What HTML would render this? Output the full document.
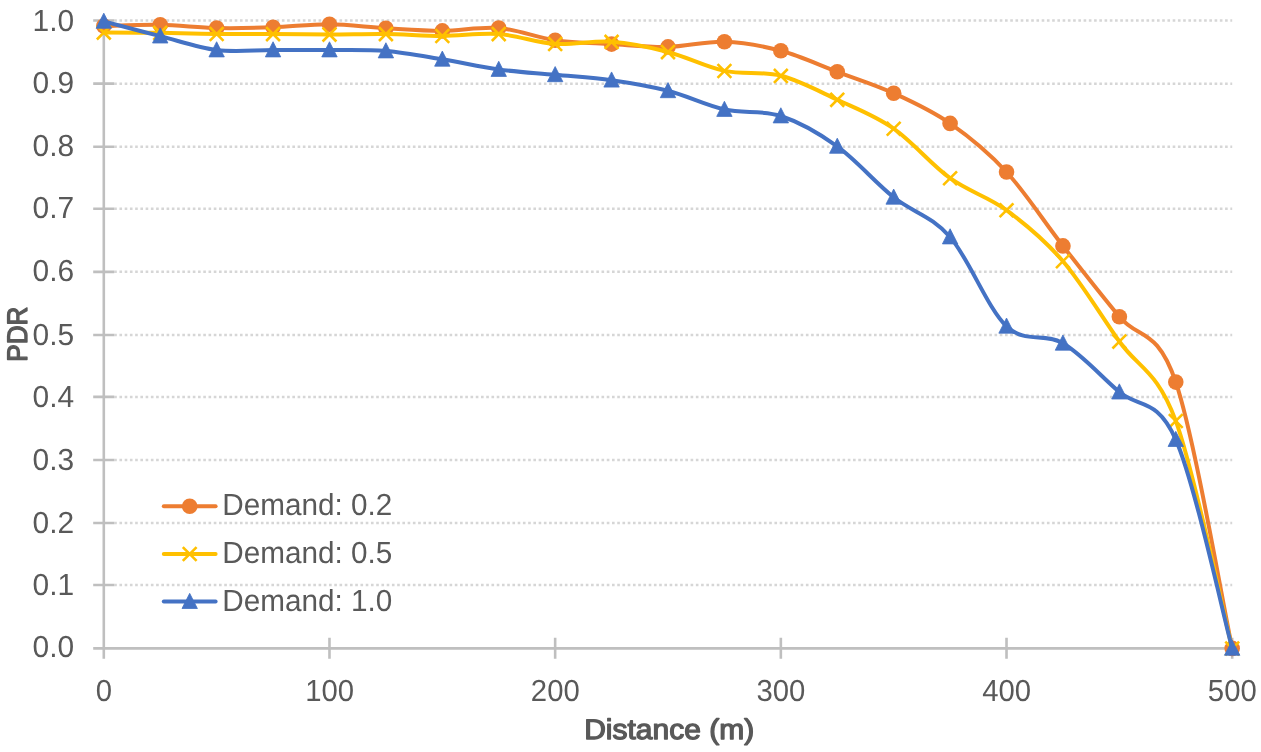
<!DOCTYPE html>
<html><head><meta charset="utf-8"><title>PDR vs Distance</title>
<style>
html,body{margin:0;padding:0;background:#fff;}
body{width:1261px;height:752px;overflow:hidden;}
svg{display:block;}
svg text{font-family:"Liberation Sans",sans-serif;font-size:30.5px;text-rendering:geometricPrecision;fill:#595959;}
svg text.b{font-size:28.3px;stroke:#595959;stroke-width:1.3px;stroke-linejoin:round;}
</style></head><body>
<svg width="1261" height="752" viewBox="0 0 1261 752">
<rect width="1261" height="752" fill="#fff"/>
<path d="M114.20 585.04H1232.20M114.20 523.06H1232.20M114.20 460.00H1232.20M114.20 396.91H1232.20M114.20 334.97H1232.20M114.20 271.84H1232.20M114.20 208.71H1232.20M114.20 146.77H1232.20M114.20 83.65H1232.20M114.20 20.43H1232.20" stroke="#D6D6D6" stroke-width="2.5" stroke-dasharray="2.62 2.62" fill="none"/>
<path d="M103.80 19.13V658.77M93.20 648.37H1233.50M93.20 585.04H114.20M93.20 523.06H114.20M93.20 460.00H114.20M93.20 396.91H114.20M93.20 334.97H114.20M93.20 271.84H114.20M93.20 208.71H114.20M93.20 146.77H114.20M93.20 83.65H114.20M93.20 20.43H114.20M329.48 637.77V658.77M555.16 637.77V658.77M780.84 637.77V658.77M1006.52 637.77V658.77M1232.20 637.77V658.77" stroke="#BFBFBF" stroke-width="2.6" fill="none"/>
<path d="M103.80 26.10 C113.20 25.88 141.41 24.48 160.22 24.80 C179.03 25.12 197.83 27.58 216.64 28.00 C235.45 28.42 254.25 27.92 273.06 27.30 C291.87 26.68 310.67 24.13 329.48 24.30 C348.29 24.47 367.09 27.20 385.90 28.30 C404.71 29.40 423.51 30.95 442.32 30.90 C461.13 30.85 479.93 26.45 498.74 28.00 C517.55 29.55 536.35 37.52 555.16 40.20 C573.97 42.88 592.77 42.98 611.58 44.10 C630.39 45.22 649.19 47.30 668.00 46.90 C686.81 46.50 705.61 41.05 724.42 41.70 C743.23 42.35 762.03 45.78 780.84 50.80 C799.65 55.82 818.45 64.73 837.26 71.80 C856.07 78.87 874.87 84.60 893.68 93.20 C912.49 101.80 931.29 110.27 950.10 123.40 C968.91 136.53 987.71 151.58 1006.52 172.00 C1025.33 192.42 1044.13 221.78 1062.94 245.90 C1081.75 270.02 1100.55 294.00 1119.36 316.70 C1138.17 339.40 1156.97 326.82 1175.78 382.10 C1194.59 437.38 1222.80 604.02 1232.20 648.40" stroke="#ED7D31" stroke-width="4" fill="none" stroke-linecap="round" stroke-linejoin="round"/>
<circle cx="103.80" cy="26.10" r="7.8" fill="#ED7D31"/><circle cx="160.22" cy="24.80" r="7.8" fill="#ED7D31"/><circle cx="216.64" cy="28.00" r="7.8" fill="#ED7D31"/><circle cx="273.06" cy="27.30" r="7.8" fill="#ED7D31"/><circle cx="329.48" cy="24.30" r="7.8" fill="#ED7D31"/><circle cx="385.90" cy="28.30" r="7.8" fill="#ED7D31"/><circle cx="442.32" cy="30.90" r="7.8" fill="#ED7D31"/><circle cx="498.74" cy="28.00" r="7.8" fill="#ED7D31"/><circle cx="555.16" cy="40.20" r="7.8" fill="#ED7D31"/><circle cx="611.58" cy="44.10" r="7.8" fill="#ED7D31"/><circle cx="668.00" cy="46.90" r="7.8" fill="#ED7D31"/><circle cx="724.42" cy="41.70" r="7.8" fill="#ED7D31"/><circle cx="780.84" cy="50.80" r="7.8" fill="#ED7D31"/><circle cx="837.26" cy="71.80" r="7.8" fill="#ED7D31"/><circle cx="893.68" cy="93.20" r="7.8" fill="#ED7D31"/><circle cx="950.10" cy="123.40" r="7.8" fill="#ED7D31"/><circle cx="1006.52" cy="172.00" r="7.8" fill="#ED7D31"/><circle cx="1062.94" cy="245.90" r="7.8" fill="#ED7D31"/><circle cx="1119.36" cy="316.70" r="7.8" fill="#ED7D31"/><circle cx="1175.78" cy="382.10" r="7.8" fill="#ED7D31"/><circle cx="1232.20" cy="648.40" r="7.8" fill="#ED7D31"/>
<path d="M103.80 32.50 C113.20 32.55 141.41 32.57 160.22 32.80 C179.03 33.03 197.83 33.70 216.64 33.90 C235.45 34.10 254.25 33.90 273.06 34.00 C291.87 34.10 310.67 34.50 329.48 34.50 C348.29 34.50 367.09 33.77 385.90 34.00 C404.71 34.23 423.51 35.90 442.32 35.90 C461.13 35.90 479.93 32.67 498.74 34.00 C517.55 35.33 536.35 42.60 555.16 43.90 C573.97 45.20 592.77 40.45 611.58 41.80 C630.39 43.15 649.19 47.15 668.00 52.00 C686.81 56.85 705.61 66.93 724.42 70.90 C743.23 74.87 762.03 70.99 780.84 75.80 C799.65 80.61 818.45 90.95 837.26 99.75 C856.07 108.55 874.87 115.52 893.68 128.60 C912.49 141.67 931.29 164.60 950.10 178.20 C968.91 191.80 987.71 196.37 1006.52 210.20 C1025.33 224.03 1044.13 239.32 1062.94 261.20 C1081.75 283.08 1100.55 314.88 1119.36 341.50 C1138.17 368.12 1156.97 369.75 1175.78 420.90 C1194.59 472.05 1222.80 610.48 1232.20 648.40" stroke="#FFC000" stroke-width="4" fill="none" stroke-linecap="round" stroke-linejoin="round"/>
<path d="M96.90 25.70l13.8 13.8M96.90 39.50l13.8 -13.8M153.32 26.00l13.8 13.8M153.32 39.80l13.8 -13.8M209.74 27.10l13.8 13.8M209.74 40.90l13.8 -13.8M266.16 27.20l13.8 13.8M266.16 41.00l13.8 -13.8M322.58 27.70l13.8 13.8M322.58 41.50l13.8 -13.8M379.00 27.20l13.8 13.8M379.00 41.00l13.8 -13.8M435.42 29.10l13.8 13.8M435.42 42.90l13.8 -13.8M491.84 27.20l13.8 13.8M491.84 41.00l13.8 -13.8M548.26 37.10l13.8 13.8M548.26 50.90l13.8 -13.8M604.68 35.00l13.8 13.8M604.68 48.80l13.8 -13.8M661.10 45.20l13.8 13.8M661.10 59.00l13.8 -13.8M717.52 64.10l13.8 13.8M717.52 77.90l13.8 -13.8M773.94 69.00l13.8 13.8M773.94 82.80l13.8 -13.8M830.36 92.95l13.8 13.8M830.36 106.75l13.8 -13.8M886.78 121.80l13.8 13.8M886.78 135.60l13.8 -13.8M943.20 171.40l13.8 13.8M943.20 185.20l13.8 -13.8M999.62 203.40l13.8 13.8M999.62 217.20l13.8 -13.8M1056.04 254.40l13.8 13.8M1056.04 268.20l13.8 -13.8M1112.46 334.70l13.8 13.8M1112.46 348.50l13.8 -13.8M1168.88 414.10l13.8 13.8M1168.88 427.90l13.8 -13.8M1225.30 641.60l13.8 13.8M1225.30 655.40l13.8 -13.8" stroke="#FFC000" stroke-width="2.6" fill="none"/>
<path d="M103.80 21.40 C113.20 23.85 141.41 31.33 160.22 36.10 C179.03 40.87 197.83 47.68 216.64 50.00 C235.45 52.32 254.25 50.00 273.06 50.00 C291.87 50.00 310.67 49.83 329.48 50.00 C348.29 50.17 367.09 49.45 385.90 51.00 C404.71 52.55 423.51 56.22 442.32 59.30 C461.13 62.38 479.93 66.92 498.74 69.50 C517.55 72.08 536.35 73.02 555.16 74.80 C573.97 76.58 592.77 77.53 611.58 80.20 C630.39 82.87 649.19 85.92 668.00 90.80 C686.81 95.68 705.61 105.30 724.42 109.50 C743.23 113.70 762.03 109.85 780.84 116.00 C799.65 122.15 818.45 132.85 837.26 146.40 C856.07 159.95 874.87 182.20 893.68 197.30 C912.49 212.40 931.29 215.50 950.10 237.00 C968.91 258.50 987.71 308.58 1006.52 326.30 C1025.33 344.02 1044.13 332.33 1062.94 343.30 C1081.75 354.27 1100.55 376.05 1119.36 392.10 C1138.17 408.15 1156.97 396.88 1175.78 439.60 C1194.59 482.32 1222.80 613.60 1232.20 648.40" stroke="#4472C4" stroke-width="4" fill="none" stroke-linecap="round" stroke-linejoin="round"/>
<path d="M103.80 13.15l7.7 15.15h-15.4zM160.22 27.85l7.7 15.15h-15.4zM216.64 41.75l7.7 15.15h-15.4zM273.06 41.75l7.7 15.15h-15.4zM329.48 41.75l7.7 15.15h-15.4zM385.90 42.75l7.7 15.15h-15.4zM442.32 51.05l7.7 15.15h-15.4zM498.74 61.25l7.7 15.15h-15.4zM555.16 66.55l7.7 15.15h-15.4zM611.58 71.95l7.7 15.15h-15.4zM668.00 82.55l7.7 15.15h-15.4zM724.42 101.25l7.7 15.15h-15.4zM780.84 107.75l7.7 15.15h-15.4zM837.26 138.15l7.7 15.15h-15.4zM893.68 189.05l7.7 15.15h-15.4zM950.10 228.75l7.7 15.15h-15.4zM1006.52 318.05l7.7 15.15h-15.4zM1062.94 335.05l7.7 15.15h-15.4zM1119.36 383.85l7.7 15.15h-15.4zM1175.78 431.35l7.7 15.15h-15.4zM1232.20 640.15l7.7 15.15h-15.4z" fill="#4472C4" stroke="#4472C4" stroke-width="0.8" stroke-linejoin="round"/>
<path d="M163.8 506.3H215.6" stroke="#ED7D31" stroke-width="4" stroke-linecap="round"/>
<circle cx="189.70" cy="506.30" r="7.8" fill="#ED7D31"/>
<text x="222.3" y="515.0" font-size="28.5" textLength="170" lengthAdjust="spacingAndGlyphs">Demand: 0.2</text>
<path d="M163.8 553.9H215.6" stroke="#FFC000" stroke-width="4" stroke-linecap="round"/>
<path d="M182.80 547.10l13.8 13.8M182.80 560.90l13.8 -13.8" stroke="#FFC000" stroke-width="2.6" fill="none"/>
<text x="222.3" y="563.0" font-size="28.5" textLength="170" lengthAdjust="spacingAndGlyphs">Demand: 0.5</text>
<path d="M163.8 601.6H215.6" stroke="#4472C4" stroke-width="4" stroke-linecap="round"/>
<path d="M189.70 593.35l7.7 15.15h-15.4z" fill="#4472C4" stroke="#4472C4" stroke-width="0.8" stroke-linejoin="round"/>
<text x="222.3" y="610.9" font-size="28.5" textLength="170" lengthAdjust="spacingAndGlyphs">Demand: 1.0</text>
<text x="74.1" y="657.4" text-anchor="end" textLength="41.6" lengthAdjust="spacingAndGlyphs">0.0</text>
<text x="74.1" y="594.6" text-anchor="end" textLength="41.6" lengthAdjust="spacingAndGlyphs">0.1</text>
<text x="74.1" y="532.7" text-anchor="end" textLength="41.6" lengthAdjust="spacingAndGlyphs">0.2</text>
<text x="74.1" y="469.6" text-anchor="end" textLength="41.6" lengthAdjust="spacingAndGlyphs">0.3</text>
<text x="74.1" y="406.5" text-anchor="end" textLength="41.6" lengthAdjust="spacingAndGlyphs">0.4</text>
<text x="74.1" y="344.6" text-anchor="end" textLength="41.6" lengthAdjust="spacingAndGlyphs">0.5</text>
<text x="74.1" y="281.4" text-anchor="end" textLength="41.6" lengthAdjust="spacingAndGlyphs">0.6</text>
<text x="74.1" y="218.3" text-anchor="end" textLength="41.6" lengthAdjust="spacingAndGlyphs">0.7</text>
<text x="74.1" y="156.4" text-anchor="end" textLength="41.6" lengthAdjust="spacingAndGlyphs">0.8</text>
<text x="74.1" y="93.2" text-anchor="end" textLength="41.6" lengthAdjust="spacingAndGlyphs">0.9</text>
<text x="74.1" y="30.6" text-anchor="end" textLength="41.6" lengthAdjust="spacingAndGlyphs">1.0</text>
<text x="103.9" y="701.3" text-anchor="middle" textLength="16.3" lengthAdjust="spacingAndGlyphs">0</text>
<text x="329.6" y="701.3" text-anchor="middle" textLength="48.9" lengthAdjust="spacingAndGlyphs">100</text>
<text x="555.3" y="701.3" text-anchor="middle" textLength="48.9" lengthAdjust="spacingAndGlyphs">200</text>
<text x="780.9" y="701.3" text-anchor="middle" textLength="48.9" lengthAdjust="spacingAndGlyphs">300</text>
<text x="1006.6" y="701.3" text-anchor="middle" textLength="48.9" lengthAdjust="spacingAndGlyphs">400</text>
<text x="1232.3" y="701.3" text-anchor="middle" textLength="48.9" lengthAdjust="spacingAndGlyphs">500</text>
<text x="669.2" y="738.6" text-anchor="middle" class="b" textLength="170" lengthAdjust="spacingAndGlyphs">Distance (m)</text>
<text transform="translate(26.8 334.1) rotate(-90)" text-anchor="middle" class="b" textLength="55.2" lengthAdjust="spacingAndGlyphs">PDR</text>
</svg>
</body></html>
